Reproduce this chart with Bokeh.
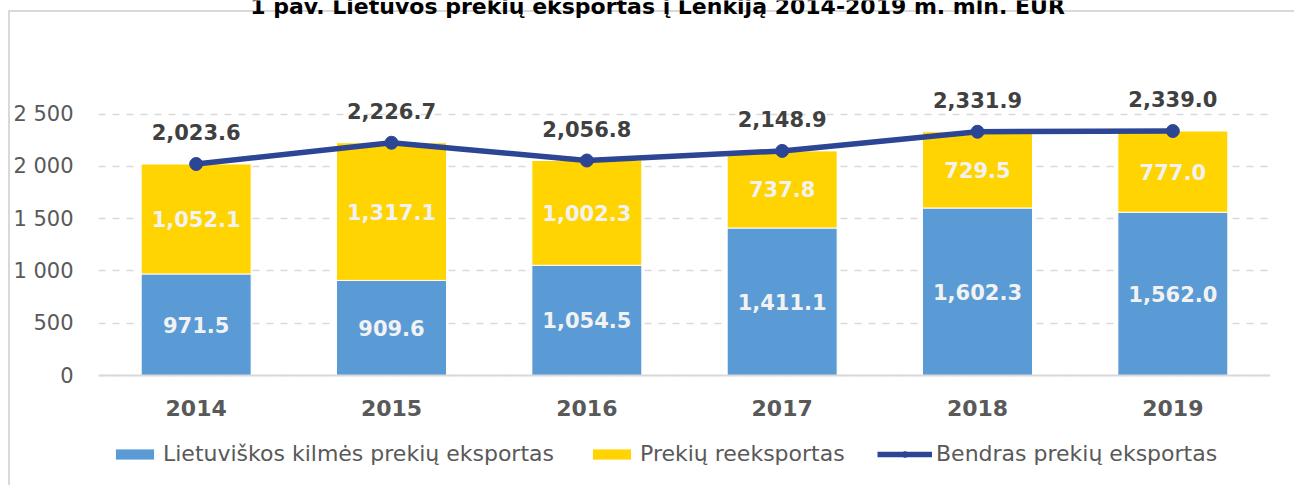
from bokeh.plotting import figure
from bokeh.models import (ColumnDataSource, FactorRange, FixedTicker, Legend,
                          LegendItem, Label, Range1d)
from bokeh.core.properties import value
from bokeh.embed import file_html
from bokeh.resources import INLINE

# ---------------- data ----------------
years = ["2014", "2015", "2016", "2017", "2018", "2019"]
domestic = [971.5, 909.6, 1054.5, 1411.1, 1602.3, 1562.0]
reexport = [1052.1, 1317.1, 1002.3, 737.8, 729.5, 777.0]
total = [2023.6, 2226.7, 2056.8, 2148.9, 2331.9, 2339.0]
y_ticks = [0, 500, 1000, 1500, 2000, 2500]
y_tick_labels = ["0", "500", "1 000", "1 500", "2 000", "2 500"]
series_names = ["Lietuviškos kilmės prekių eksportas",
                "Prekių reeksportas",
                "Bendras prekių eksportas"]
title_text = "1 pav. Lietuvos prekių eksportas į Lenkiją 2014-2019 m. mln. EUR"

# ---------------- style ----------------
FONT = "DejaVu Sans"
BLUE = "#5B9BD5"
YELLOW = "#FFD400"
NAVY = "#2C4594"
GRID = "#D9D9D9"
W, H = 1294, 485
LEFT, RIGHT = 98, 24
ZERO_Y = 375            # pixel row of the value 0
PX_PER_UNIT = 0.10452   # pixels per million EUR
Y_MIN = -(H - ZERO_Y) / PX_PER_UNIT
Y_MAX = ZERO_Y / PX_PER_UNIT

src = ColumnDataSource(dict(
    year=years,
    domestic=domestic,
    reexport=reexport,
    total=total,
    dmid=[d / 2 for d in domestic],
    rmid=[d + r / 2 for d, r in zip(domestic, reexport)],
    dlab=["{:,.1f}".format(v) for v in domestic],
    rlab=["{:,.1f}".format(v) for v in reexport],
    tlab=["{:,.1f}".format(v) for v in total],
))

p = figure(width=W, height=H,
           x_range=FactorRange(*years, range_padding=0),
           y_range=Range1d(Y_MIN, Y_MAX),
           output_backend="svg", toolbar_location=None,
           min_border_left=LEFT, min_border_right=RIGHT,
           min_border_top=0, min_border_bottom=0)
p.outline_line_color = None
p.background_fill_alpha = 0
p.border_fill_alpha = 0
# chart-area border lines (top and left), drawn behind the transparent canvas
p.styles = {
    "background-color": "white",
    "background-image": "linear-gradient(#D9D9D9, #D9D9D9), linear-gradient(#D9D9D9, #D9D9D9)",
    "background-size": "100% 2px, 2px 100%",
    "background-position": "9px 10px, 8px 10px",
    "background-repeat": "no-repeat",
}

bars = p.vbar_stack(["domestic", "reexport"], x="year", width=0.563, source=src,
                    fill_color=[BLUE, YELLOW], line_color="white", line_width=1)

common = dict(text_font=value(FONT), text_font_size="21px", text_font_style="bold",
              text_align="center", text_baseline="middle")
p.text(x="year", y="dmid", text="dlab", source=src, text_color="#F2F2F2", **common)
p.text(x="year", y="rmid", text="rlab", source=src, text_color="#F2F2F2", **common)

ln = p.line(x="year", y="total", source=src, line_color=NAVY, line_width=5.5)
pts = p.scatter(x="year", y="total", source=src, size=13, fill_color=NAVY,
                line_color=NAVY)
p.text(x="year", y="total", text="tlab", source=src, text_color="#404040",
       y_offset=-32, **common)

# axes
p.yaxis.ticker = FixedTicker(ticks=y_ticks)
p.yaxis.major_label_overrides = {t: l for t, l in zip(y_ticks, y_tick_labels)}
p.yaxis.axis_line_color = None
p.yaxis.major_tick_line_color = None
p.yaxis.minor_tick_line_color = None
p.yaxis.major_tick_out = 0
p.yaxis.major_label_standoff = 25
p.yaxis.major_label_text_font = FONT
p.yaxis.major_label_text_font_size = "21px"
p.yaxis.major_label_text_color = "#595959"

p.xaxis.fixed_location = 0
p.xaxis.axis_line_color = GRID
p.xaxis.axis_line_width = 2
p.xaxis.major_tick_line_color = None
p.xaxis.minor_tick_line_color = None
p.xaxis.major_tick_out = 0
p.xaxis.major_label_standoff = 24
p.xaxis.major_label_text_font = FONT
p.xaxis.major_label_text_font_size = "22px"
p.xaxis.major_label_text_font_style = "bold"
p.xaxis.major_label_text_color = "#595959"

p.xgrid.visible = False
p.ygrid.ticker = FixedTicker(ticks=y_ticks)
p.ygrid.grid_line_color = GRID
p.ygrid.grid_line_width = 1.5
p.ygrid.grid_line_dash = "7 7"

# legends (one per item, positioned in px from the frame's bottom-left)
def make_legend(label, renderers, x, gw):
    return Legend(items=[LegendItem(label=label, renderers=renderers)],
                  location=(x, 19), orientation="horizontal",
                  glyph_width=gw, glyph_height=14, label_standoff=4,
                  padding=0, margin=0, border_line_color=None,
                  background_fill_alpha=0,
                  label_text_font=FONT, label_text_font_size="22px",
                  label_text_color="#595959")

p.add_layout(make_legend(series_names[0], [bars[0]], 12, 49))
p.add_layout(make_legend(series_names[1], [bars[1]], 489, 49))
p.add_layout(make_legend(series_names[2], [ln, pts], 779, 55))

# title (partly cut by the top edge, as in the source image)
p.add_layout(Label(x=559, y=H - 6, x_units="screen", y_units="screen",
                   text=title_text, text_align="center",
                   text_baseline="alphabetic", text_font=FONT,
                   text_font_size="22px", text_font_style="bold",
                   text_color="#000000"))

open("out.html", "w").write(file_html(p, INLINE))
